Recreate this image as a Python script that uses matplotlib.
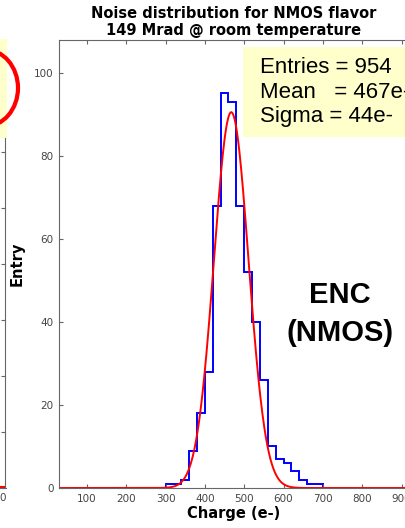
import numpy as np
import matplotlib.pyplot as plt
from matplotlib.patches import Ellipse, Rectangle

# histogram of noise (bin edges in e-, counts per 20 e- bin)
bin_edges = np.arange(300, 720, 20)
counts = [1, 1, 2, 9, 18, 28, 68, 95, 93, 68, 52, 40, 26, 10, 7, 6, 4, 2, 1, 1]

# gaussian fit
fit_amp = 90.5
fit_mean = 467
fit_sigma = 44

stat_lines = ["Entries = 954", "Mean   = 467e-", "Sigma = 44e-"]
x_ticks = [100, 200, 300, 400, 500, 600, 700, 800, 900]
y_ticks = [0, 20, 40, 60, 80, 100]

W, H = 406, 528
fig = plt.figure(figsize=(W / 100, H / 100), dpi=100)


def fx(px):
    return px / W


def fy(py):
    return 1 - py / H


spine_col = '#666666'

# piece of the neighbouring plot, cut off at the left edge
axl = fig.add_axes([fx(-120), fy(488), fx(125.5), fy(40) - fy(488)])
axl.set_xlim(0, 1000)
axl.set_ylim(0, 8)
axl.set_yticks(range(9))
axl.set_xticks([])
axl.tick_params(axis='y', direction='in', right=True, left=False, labelleft=False,
                length=3, color=spine_col)
axl.plot([0, 1000], [0.02, 0.02], color='red', lw=1.5)
for s in axl.spines.values():
    s.set_color(spine_col)
fig.text(fx(3), fy(498), '0', ha='center', va='center', fontsize=7.5, color='#444444')
fig.patches.append(Rectangle((fx(0), fy(138)), fx(7), fy(39) - fy(138),
                             transform=fig.transFigure, facecolor='#ffffcc',
                             edgecolor='none', zorder=3))
fig.patches.append(Ellipse((fx(-15), fy(88)), fx(66), fy(50) - fy(127),
                           transform=fig.transFigure, facecolor='none',
                           edgecolor='red', lw=3, zorder=4))

# main plot
ax = fig.add_axes([fx(59), fy(488), fx(409 - 59), fy(39.5) - fy(488)])
xs = np.linspace(0, 1000, 1001)
ax.stairs(counts, bin_edges, color='blue', lw=1.4, baseline=0)
ax.plot(xs, fit_amp * np.exp(-0.5 * ((xs - fit_mean) / fit_sigma) ** 2), color='red', lw=1.4)
ax.set_xlim(29, 919)
ax.set_ylim(0, 108)
ax.set_xticks(x_ticks)
ax.set_yticks(y_ticks)
ax.tick_params(direction='in', top=True, right=True, length=3, color=spine_col,
               labelsize=7.5, labelcolor='#444444', pad=4)
for s in ax.spines.values():
    s.set_color(spine_col)

ax.set_title("Noise distribution for NMOS flavor\n149 Mrad @ room temperature",
             fontsize=10.5, fontweight='bold', pad=3, linespacing=1.2)
ax.set_xlabel("Charge (e-)", fontsize=10.5, fontweight='bold')
ax.set_ylabel("Entry", fontsize=10.5, fontweight='bold')
ax.xaxis.set_label_coords(0.5, (488 - 506) / 448.5)
ax.yaxis.set_label_coords((25 - 59) / 350, 0.5)

# stats box
fig.patches.append(Rectangle((fx(243), fy(137)), fx(170), fy(47) - fy(137),
                             transform=fig.transFigure, facecolor='#ffffcc',
                             edgecolor='none', zorder=5))
for i, line in enumerate(stat_lines):
    fig.text(fx(260.5), fy(73 + 24.5 * i), line, family='Liberation Sans',
             fontsize=16, va='baseline', ha='left', zorder=6)

fig.text(fx(340), fy(303), "ENC", family='Liberation Sans', fontweight='bold',
         fontsize=21, ha='center', va='baseline')
fig.text(fx(340), fy(341), "(NMOS)", family='Liberation Sans', fontweight='bold',
         fontsize=21, ha='center', va='baseline')

fig.savefig("out.png", dpi=100)
